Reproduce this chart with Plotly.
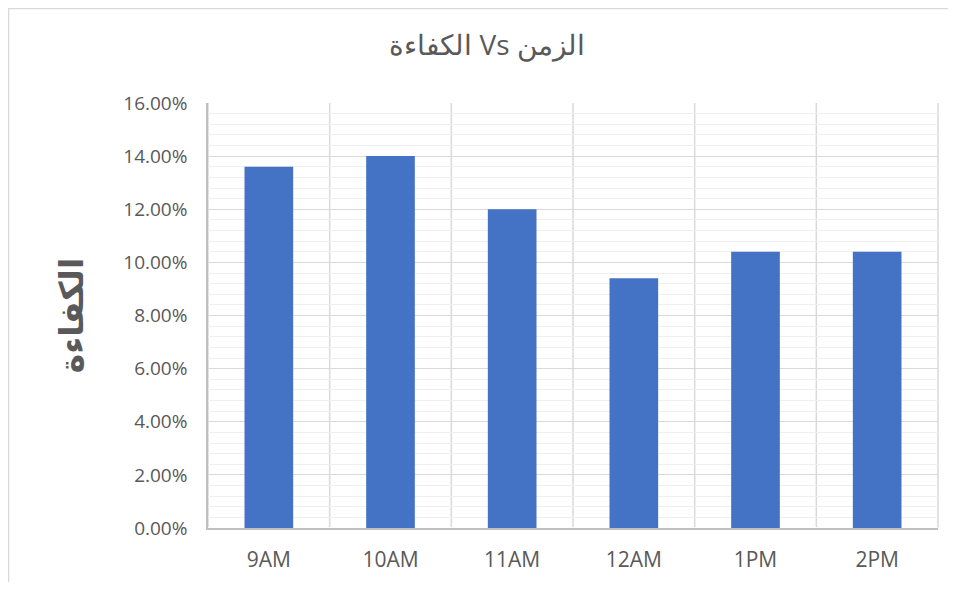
import plotly.graph_objects as go

categories = ["9AM", "10AM", "11AM", "12AM", "1PM", "2PM"]
efficiency = [0.136, 0.140, 0.120, 0.094, 0.104, 0.104]
y_ticks = [0, 0.02, 0.04, 0.06, 0.08, 0.10, 0.12, 0.14, 0.16]
y_tick_labels = ["0.00%", "2.00%", "4.00%", "6.00%", "8.00%", "10.00%", "12.00%", "14.00%", "16.00%"]
title_text = "\u202Bالزمن Vs الكفاءة\u202C"
y_title_text = "<b>الكفاءة</b>"

# page body has an 8px margin; figure sized to fit inside the window
W, H = 940, 574
L, R, T, B = 200, 10, 95, 54

fig = go.Figure(go.Bar(x=categories, y=efficiency, marker=dict(color="#4472C4", line=dict(width=0)), width=0.4))

fig.update_layout(
    width=W, height=H,
    margin=dict(l=L, r=R, t=T, b=B),
    paper_bgcolor="white", plot_bgcolor="white",
    font=dict(family="Open Sans, Noto Sans", color="#595959", size=19),
    title=dict(text=title_text, x=479 / W, xanchor="center", y=1 - 37 / H, yanchor="middle",
               font=dict(size=28, color="#595959", family="Open Sans, Noto Sans")),
    showlegend=False,
    bargap=0.6,
)
fig.update_xaxes(
    showgrid=False, showline=True, linecolor="#BFBFBF", linewidth=1.5,
    ticks="outside", ticklen=12, tickcolor="rgba(0,0,0,0)",
    tickfont=dict(size=21, color="#595959"),
)
fig.update_yaxes(
    range=[0, 0.16], tickvals=y_ticks, ticktext=y_tick_labels,
    showgrid=True, gridcolor="#D9D9D9", gridwidth=1,
    minor=dict(dtick=0.004, tick0=0, showgrid=True, gridcolor="#EFEFEF", gridwidth=1),
    showline=True, linecolor="#BFBFBF", linewidth=1.5,
    ticks="outside", ticklen=15, tickcolor="rgba(0,0,0,0)",
    tickfont=dict(size=19, color="#595959"),
    title=dict(text=y_title_text, font=dict(size=33, color="#595959", family="Noto Sans, DejaVu Sans"), standoff=30),
)

# vertical category separators
n = len(categories)
for i in range(n + 1):
    fig.add_shape(type="line", xref="x domain", yref="y domain", x0=i / n, x1=i / n, y0=0, y1=1,
                  line=dict(color="#D9D9D9", width=1.5), layer="below")

# chart frame (top and left edges)
pw = W - L - R
ph = H - T - B
fig.add_shape(type="line", xref="paper", yref="paper", x0=(0.5 - L) / pw, x1=(W - L) / pw,
              y0=1 + (T - 0.5) / ph, y1=1 + (T - 0.5) / ph, line=dict(color="#D9D9D9", width=1.5))
fig.add_shape(type="line", xref="paper", yref="paper", x0=(0.5 - L) / pw, x1=(0.5 - L) / pw,
              y0=-B / ph, y1=1 + T / ph, line=dict(color="#D9D9D9", width=1.5))

fig.write_html("out.html")
